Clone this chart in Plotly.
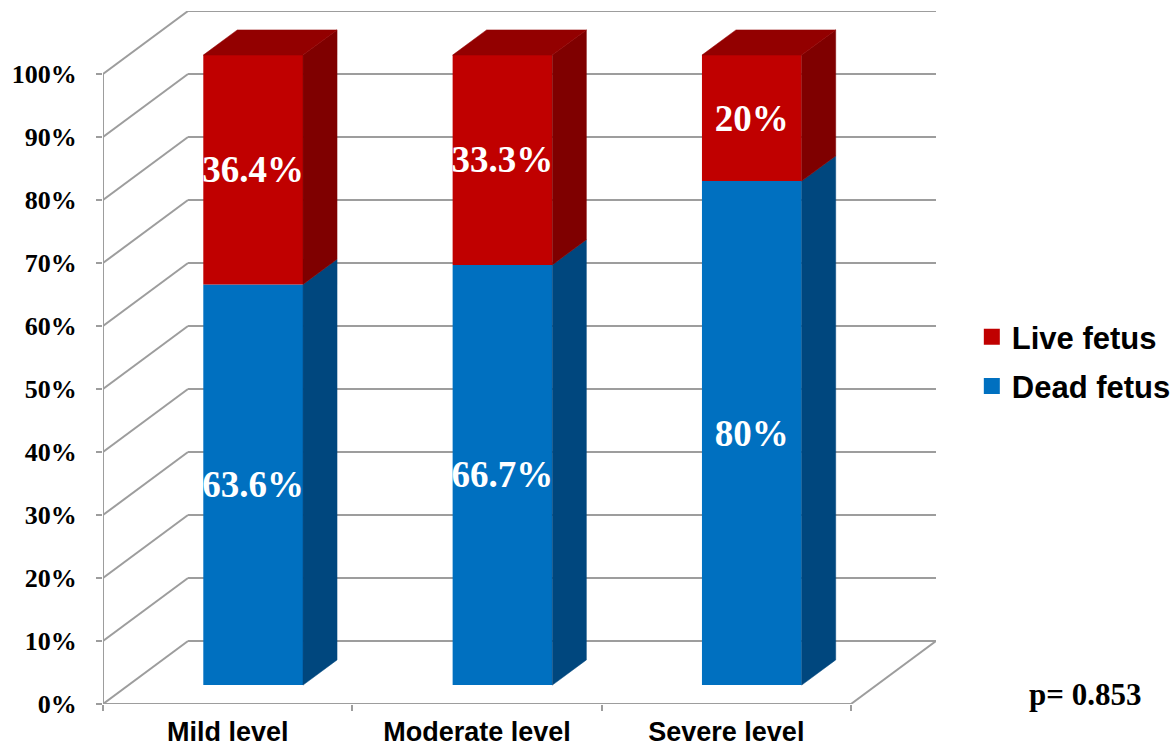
import plotly.graph_objects as go

# ---- data -------------------------------------------------------------
categories = ["Mild level", "Moderate level", "Severe level"]
dead_pct = [63.6, 66.7, 80.0]
live_pct = [36.4, 33.3, 20.0]
dead_labels = ["63.6%", "66.7%", "80%"]
live_labels = ["36.4%", "33.3%", "20%"]
y_ticks = list(range(0, 101, 10))
p_value_text = "p= 0.853"

# ---- styling ------------------------------------------------------------
RED, RED_SIDE, RED_TOP = "#C00000", "#7F0000", "#930000"
BLUE, BLUE_SIDE = "#0070C0", "#00477E"
GRID = "#9D9D9D"
SERIF = "Liberation Serif"
SANS = "Liberation Sans"

# oblique projection of the 3-D chart box (depth z runs 0 front -> 1 back)
DX, DY = 0.341, 10.0
Z0, Z1 = 0.3, 0.7          # depth span occupied by the bars
BW = 0.4                   # bar width in category units
X_LO, X_HI = -0.5, len(categories) - 0.5


def proj(x, v, z):
    return x + DX * z, v + DY * z


fig = go.Figure()

# ---- walls and floor -----------------------------------------------------
shapes = []


def seg(p, q):
    shapes.append(dict(type="line", xref="x", yref="y", x0=p[0], y0=p[1],
                       x1=q[0], y1=q[1], layer="below",
                       line=dict(color=GRID, width=2)))


for v in y_ticks:
    seg(proj(X_LO, v, 0), proj(X_LO, v, 1))      # side wall
    seg(proj(X_LO, v, 1), proj(X_HI, v, 1))      # back wall
seg(proj(X_LO, 0, 0), proj(X_LO, y_ticks[-1], 0))  # vertical axis
seg(proj(X_LO, 0, 0), proj(X_HI, 0, 0))          # floor front edge
seg(proj(X_HI, 0, 0), proj(X_HI, 0, 1))          # floor right edge

# ---- bars ------------------------------------------------------------------
xs = list(range(len(categories)))
front_x = [proj(i, 0, Z0)[0] for i in xs]
dead_base = [DY * Z0] * len(xs)
live_base = [DY * Z0 + d for d in dead_pct]

label_font = dict(family=SERIF, size=37, color="white", weight="bold")
for vals, base, labels, col, name in [
    (dead_pct, dead_base, dead_labels, BLUE, "Dead fetus"),
    (live_pct, live_base, live_labels, RED, "Live fetus"),
]:
    fig.add_trace(go.Bar(
        x=front_x, y=vals, base=base, width=BW, name=name,
        marker=dict(color=col, line=dict(width=0)),
        text=labels, textposition="inside", insidetextanchor="middle",
        textangle=0, constraintext="none", textfont=label_font,
        showlegend=False, hoverinfo="skip",
    ))


def face(px, py, color):
    fig.add_trace(go.Scatter(
        x=px + [px[0]], y=py + [py[0]], mode="lines", fill="toself",
        fillcolor=color, line=dict(width=0.5, color=color),
        showlegend=False, hoverinfo="skip",
    ))


for i, fx in enumerate(front_x):
    xr = fx + BW / 2
    xl = fx - BW / 2
    dz = Z1 - Z0
    for b, h, side in [(dead_base[i], dead_pct[i], BLUE_SIDE),
                       (live_base[i], live_pct[i], RED_SIDE)]:
        t = b + h
        p0, p1 = (xr, b), (xr + DX * dz, b + DY * dz)
        p2, p3 = (xr + DX * dz, t + DY * dz), (xr, t)
        face([p0[0], p1[0], p2[0], p3[0]], [p0[1], p1[1], p2[1], p3[1]], side)
    top = live_base[i] + live_pct[i]
    face([xl, xl + DX * dz, xr + DX * dz, xr],
         [top, top + DY * dz, top + DY * dz, top], RED_TOP)

# ---- legend entries --------------------------------------------------------
for name, col, grp in [("Live fetus", RED, "a"), ("Dead fetus", BLUE, "b")]:
    fig.add_trace(go.Scatter(
        x=[None], y=[None], mode="markers", name=name, legendgroup=grp,
        marker=dict(symbol="square", size=16, color=col),
    ))

fig.add_annotation(
    text=p_value_text, xref="paper", yref="paper", x=1.179, y=0.013,
    showarrow=False, xanchor="center", yanchor="middle",
    font=dict(family=SERIF, size=31, color="black", weight="bold"),
)

fig.update_layout(
    width=1176, height=751,
    margin=dict(l=103, r=240, t=11, b=47, pad=0, autoexpand=False),
    paper_bgcolor="white", plot_bgcolor="white",
    barmode="overlay", shapes=shapes,
    legend=dict(
        x=1.043, y=0.494, xanchor="left", yanchor="middle",
        traceorder="grouped", tracegroupgap=6,
        font=dict(family=SANS, size=31, color="black", weight="bold"),
        itemsizing="trace", bgcolor="rgba(0,0,0,0)",
    ),
    xaxis=dict(
        range=[X_LO, X_HI + DX], tickmode="array", tickvals=xs,
        ticktext=categories, ticks="", showgrid=False, zeroline=False,
        showline=False, ticklabelstandoff=9, automargin=False,
        tickfont=dict(family=SANS, size=27, color="black", weight="bold"),
        minor=dict(ticks="outside", tick0=X_LO, dtick=1, ticklen=6,
                   tickwidth=2, tickcolor=GRID, showgrid=False),
    ),
    yaxis=dict(
        range=[0, y_ticks[-1] + DY], tickmode="array", tickvals=y_ticks,
        ticktext=[f"{v}%" for v in y_ticks], ticks="outside", ticklen=6,
        tickwidth=2, tickcolor=GRID, showgrid=False, zeroline=False,
        showline=False, ticklabelstandoff=14, automargin=False,
        tickfont=dict(family=SERIF, size=26, color="black", weight="bold"),
    ),
)

fig.write_html("out.html")
